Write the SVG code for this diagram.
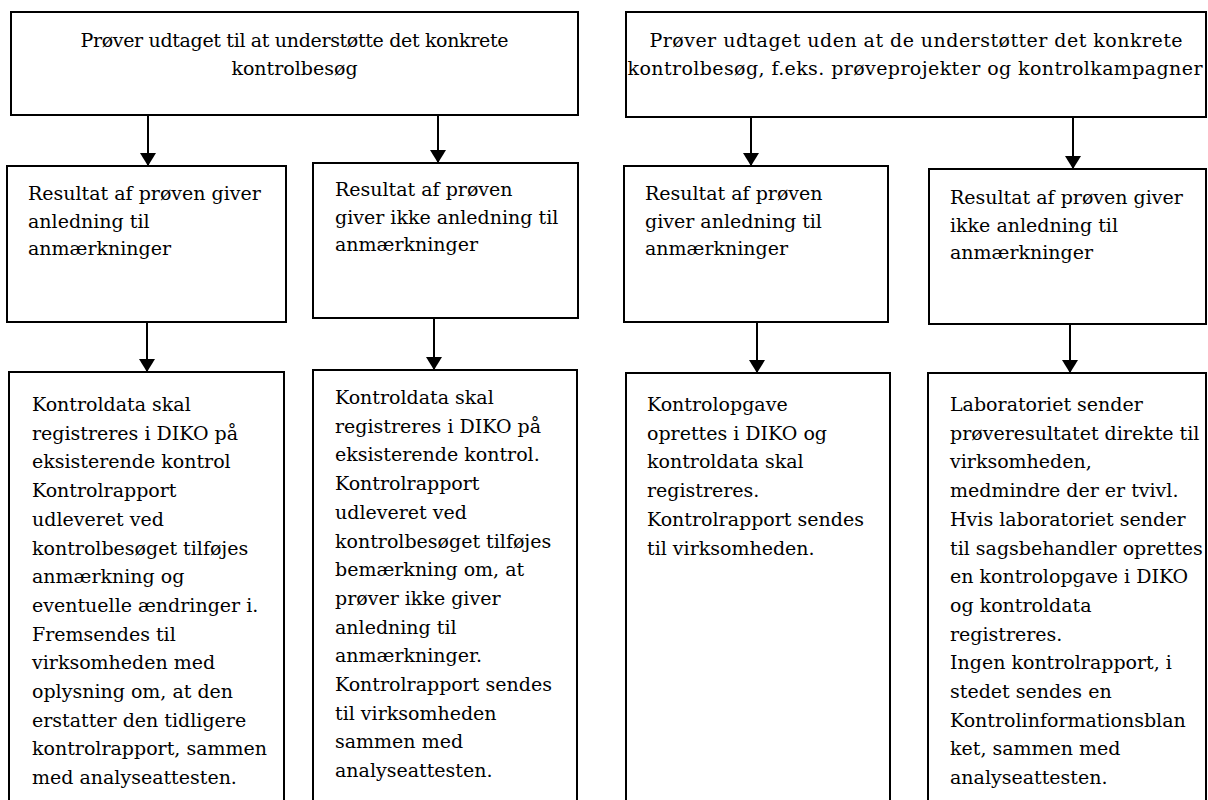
<svg xmlns="http://www.w3.org/2000/svg" width="1208" height="800" viewBox="0 0 1208 800">
<style>
.box{fill:#fff;stroke:#000;stroke-width:2}
text{font-family:'DejaVu Serif','Liberation Serif',serif;font-size:19px;fill:#000}
.c{text-anchor:middle}
.con{stroke:#000;stroke-width:2;fill:none}
</style>
<defs>
<marker id="ah" markerUnits="userSpaceOnUse" markerWidth="13" markerHeight="16" refX="13" refY="8" orient="auto" viewBox="0 0 13 16">
<path d="M0,0 L13,8 L0,16 Z" fill="#000"/>
</marker>
</defs>
<rect width="1208" height="800" fill="#fff"/>
<g id="n1">
<rect class="box" x="11" y="12" width="567" height="103"/>
<text class="c" x="294.5" y="47" textLength="428" lengthAdjust="spacing">Prøver udtaget til at understøtte det konkrete</text>
<text class="c" x="294.5" y="75">kontrolbesøg</text>
</g>
<g id="n2">
<rect class="box" x="626" y="12" width="580" height="105"/>
<text class="c" x="916" y="47" textLength="533" lengthAdjust="spacing">Prøver udtaget uden at de understøtter det konkrete</text>
<text class="c" x="915" y="75" textLength="575" lengthAdjust="spacing">kontrolbesøg, f.eks. prøveprojekter og kontrolkampagner</text>
</g>
<g id="n3">
<rect class="box" x="7" y="166" width="279" height="156"/>
<text x="28" y="200">Resultat af prøven giver</text>
<text x="28" y="227.5">anledning til</text>
<text x="28" y="255">anmærkninger</text>
</g>
<g id="n4">
<rect class="box" x="313" y="163" width="265" height="155"/>
<text x="335" y="196">Resultat af prøven</text>
<text x="335" y="223.5">giver ikke anledning til</text>
<text x="335" y="251">anmærkninger</text>
</g>
<g id="n5">
<rect class="box" x="624" y="166" width="264" height="156"/>
<text x="645" y="200">Resultat af prøven</text>
<text x="645" y="227.5">giver anledning til</text>
<text x="645" y="255">anmærkninger</text>
</g>
<g id="n6">
<rect class="box" x="929" y="169" width="277" height="155"/>
<text x="950" y="204">Resultat af prøven giver</text>
<text x="950" y="231.5">ikke anledning til</text>
<text x="950" y="259">anmærkninger</text>
</g>
<g id="n7">
<rect class="box" x="9" y="372" width="275" height="440"/>
<text x="32" y="411">
<tspan x="32">Kontroldata skal</tspan>
<tspan x="32" dy="28.7">registreres i DIKO på</tspan>
<tspan x="32" dy="28.7">eksisterende kontrol</tspan>
<tspan x="32" dy="28.7">Kontrolrapport</tspan>
<tspan x="32" dy="28.7">udleveret ved</tspan>
<tspan x="32" dy="28.7">kontrolbesøget tilføjes</tspan>
<tspan x="32" dy="28.7">anmærkning og</tspan>
<tspan x="32" dy="28.7">eventuelle ændringer i.</tspan>
<tspan x="32" dy="28.7">Fremsendes til</tspan>
<tspan x="32" dy="28.7">virksomheden med</tspan>
<tspan x="32" dy="28.7">oplysning om, at den</tspan>
<tspan x="32" dy="28.7">erstatter den tidligere</tspan>
<tspan x="32" dy="28.7">kontrolrapport, sammen</tspan>
<tspan x="32" dy="28.7">med analyseattesten.</tspan>
</text>
</g>
<g id="n8">
<rect class="box" x="313" y="370" width="264" height="442"/>
<text x="335" y="404">
<tspan x="335">Kontroldata skal</tspan>
<tspan x="335" dy="28.7">registreres i DIKO på</tspan>
<tspan x="335" dy="28.7">eksisterende kontrol.</tspan>
<tspan x="335" dy="28.7">Kontrolrapport</tspan>
<tspan x="335" dy="28.7">udleveret ved</tspan>
<tspan x="335" dy="28.7">kontrolbesøget tilføjes</tspan>
<tspan x="335" dy="28.7">bemærkning om, at</tspan>
<tspan x="335" dy="28.7">prøver ikke giver</tspan>
<tspan x="335" dy="28.7">anledning til</tspan>
<tspan x="335" dy="28.7">anmærkninger.</tspan>
<tspan x="335" dy="28.7">Kontrolrapport sendes</tspan>
<tspan x="335" dy="28.7">til virksomheden</tspan>
<tspan x="335" dy="28.7">sammen med</tspan>
<tspan x="335" dy="28.7">analyseattesten.</tspan>
</text>
</g>
<g id="n9">
<rect class="box" x="626" y="373" width="264" height="439"/>
<text x="647" y="411">
<tspan x="647">Kontrolopgave</tspan>
<tspan x="647" dy="28.7">oprettes i DIKO og</tspan>
<tspan x="647" dy="28.7">kontroldata skal</tspan>
<tspan x="647" dy="28.7">registreres.</tspan>
<tspan x="647" dy="28.7">Kontrolrapport sendes</tspan>
<tspan x="647" dy="28.7">til virksomheden.</tspan>
</text>
</g>
<g id="n10">
<rect class="box" x="928" y="373" width="278" height="439"/>
<text x="950" y="411">
<tspan x="950">Laboratoriet sender</tspan>
<tspan x="950" dy="28.7">prøveresultatet direkte til</tspan>
<tspan x="950" dy="28.7">virksomheden,</tspan>
<tspan x="950" dy="28.7">medmindre der er tvivl.</tspan>
<tspan x="950" dy="28.7">Hvis laboratoriet sender</tspan>
<tspan x="950" dy="28.7">til sagsbehandler oprettes</tspan>
<tspan x="950" dy="28.7">en kontrolopgave i DIKO</tspan>
<tspan x="950" dy="28.7">og kontroldata</tspan>
<tspan x="950" dy="28.7">registreres.</tspan>
<tspan x="950" dy="28.7">Ingen kontrolrapport, i</tspan>
<tspan x="950" dy="28.7">stedet sendes en</tspan>
<tspan x="950" dy="28.7">Kontrolinformationsblan</tspan>
<tspan x="950" dy="28.7">ket, sammen med</tspan>
<tspan x="950" dy="28.7">analyseattesten.</tspan>
</text>
</g>
<g id="connectors">
<line class="con" x1="148" y1="115" x2="148" y2="166" marker-end="url(#ah)"/>
<line class="con" x1="438" y1="115" x2="438" y2="163" marker-end="url(#ah)"/>
<line class="con" x1="751" y1="117" x2="751" y2="166" marker-end="url(#ah)"/>
<line class="con" x1="1073" y1="117" x2="1073" y2="169" marker-end="url(#ah)"/>
<line class="con" x1="147" y1="322" x2="147" y2="372" marker-end="url(#ah)"/>
<line class="con" x1="434" y1="318" x2="434" y2="370" marker-end="url(#ah)"/>
<line class="con" x1="757" y1="322" x2="757" y2="373" marker-end="url(#ah)"/>
<line class="con" x1="1070" y1="324" x2="1070" y2="373" marker-end="url(#ah)"/>
</g>
</svg>
